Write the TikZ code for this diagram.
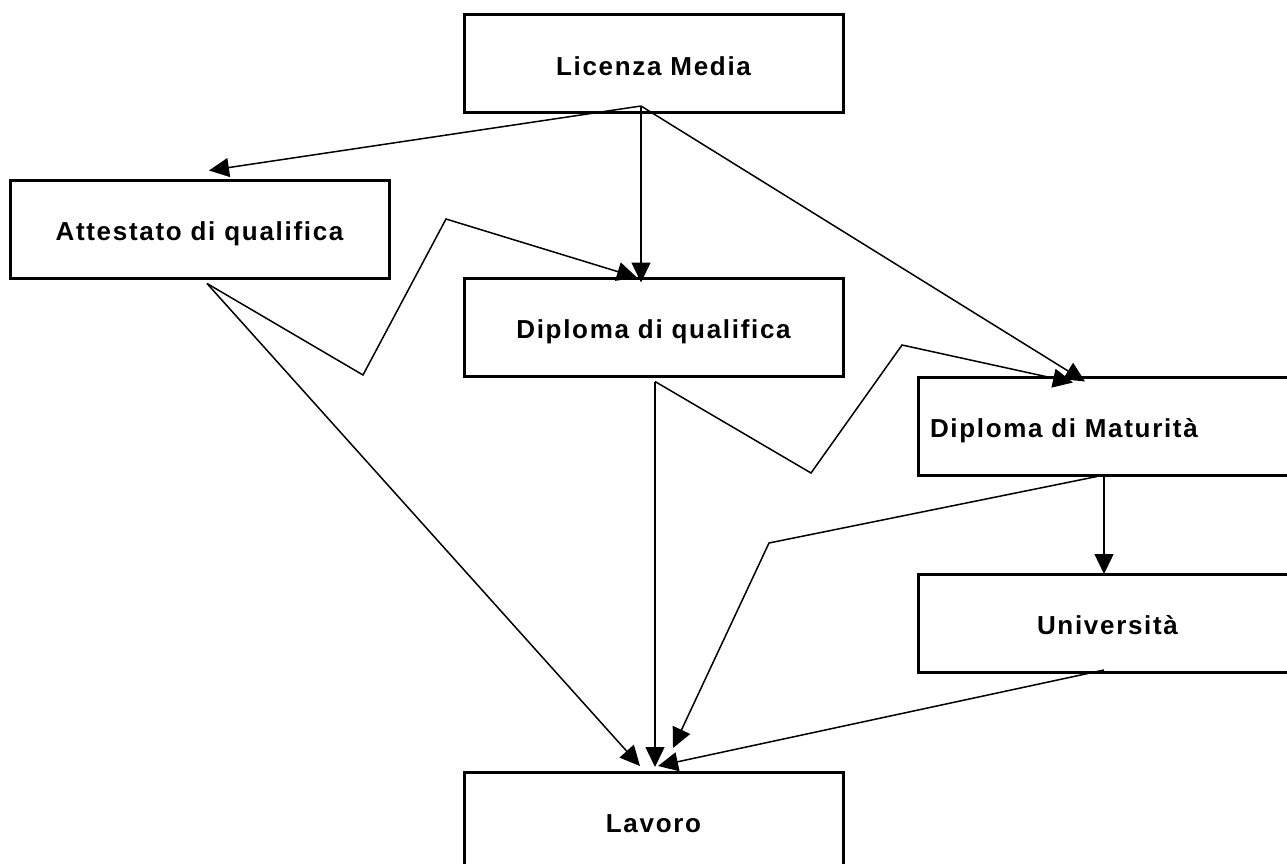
\documentclass[tikz,border=0pt]{standalone}
\usepackage{fontspec}
\setmainfont{Liberation Sans}[LetterSpace=6.5]
\usetikzlibrary{arrows.meta}

\begin{document}
\begin{tikzpicture}[x=1pt, y=-1pt, >={Triangle[length=20pt, width=19pt]}, line width=1.5pt]
				\tikzstyle{box} = [draw=black, line width=3pt, rectangle, minimum width=379pt, minimum height=98pt, outer sep=0pt, text height=22.6pt, text depth=0pt, font=\fontsize{26}{30}\selectfont\bfseries]
				
				\clip (0,0) rectangle (1287,864);
				
				\node[box] 			at (653.5, 64) 		(licenza) 	{Licenza Media};
				\node[box] 			at (199.5, 229.5) 	(attestato) {Attestato di qualifica};
				\node[box] 			at (653.5, 327.5) 	(dipqual) 	{Diploma di qualifica};
				\node[box, text width=355pt, align=left, inner xsep=12pt]
									at (1107.5, 426.5) 	(maturita) 	{Diploma di Maturità};
				\node[box] 			at (1107.5, 623) 	(univ) 		{Università};
				\node[box] 			at (653.5, 821) 	(lavoro) 	{Lavoro};
				
				% attacchi
				\coordinate (lm-out)  at ([xshift=-12.5pt, yshift=7pt]licenza.south);
				\coordinate (at-in)   at ([xshift=9.5pt, yshift=10pt]attestato.north);
				\coordinate (at-out)  at ([xshift=7.5pt, yshift=-5pt]attestato.south);
				\coordinate (dq-in)   at ([xshift=-12.5pt, yshift=-4pt]dipqual.north);
				\coordinate (dq-in2)  at ([xshift=-16.5pt, yshift=1pt]dipqual.north);
				\coordinate (dq-out)  at ([xshift=1.5pt, yshift=-5pt]dipqual.south);
				\coordinate (dm-in)   at ([xshift=-22.5pt, yshift=-4pt]maturita.north);
				\coordinate (dm-in2)  at ([xshift=-34.5pt, yshift=-5pt]maturita.north);
				\coordinate (dm-out)  at ([xshift=-3.5pt, yshift=-1pt]maturita.south);
				\coordinate (dm-out2) at ([xshift=-10.5pt, yshift=-1pt]maturita.south);
				\coordinate (un-in)   at ([xshift=-3.5pt]univ.north);
				\coordinate (un-out)  at ([xshift=-3.5pt, yshift=2pt]univ.south);
				\coordinate (lv-a)    at ([xshift=-13.5pt, yshift=6pt]lavoro.north);
				\coordinate (lv-b)    at ([xshift=1.5pt, yshift=5pt]lavoro.north);
				\coordinate (lv-c)    at ([xshift=19.5pt, yshift=24pt]lavoro.north);
				\coordinate (lv-d)    at ([xshift=4.5pt, yshift=6pt]lavoro.north);
				
				% pieghe
				\coordinate (k1) at (363, 375);
				\coordinate (k2) at (446, 219);
				\coordinate (k3) at (811, 473);
				\coordinate (k4) at (902, 345);
				\coordinate (k5) at (769, 543);
				
				\path[->]
				(lm-out)	edge	(at-in)
				(lm-out)	edge	(dq-in)
				(lm-out)	edge	(dm-in)
				(at-out)	edge	(lv-a)
				(dq-out)	edge	(lv-b)
				(dm-out)	edge	(un-in)
				(un-out)	edge	(lv-d);
				
				\draw[->] (at-out) -- (k1) -- (k2) -- (dq-in2);
				\draw[->] (dq-out) -- (k3) -- (k4) -- (dm-in2);
				\draw[->] (dm-out2) -- (k5) -- (lv-c);
			\end{tikzpicture}
\end{document}
